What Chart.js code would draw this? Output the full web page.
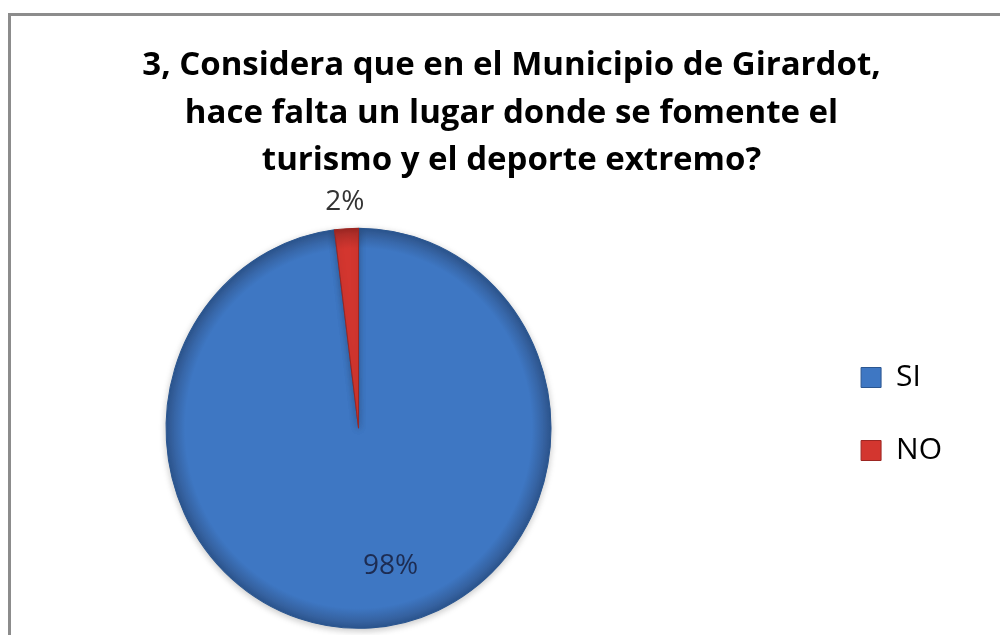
<!DOCTYPE html>
<html lang="es">
<head>
<meta charset="utf-8">
<title>Encuesta Girardot - Pregunta 3</title>
<script src="https://cdn.jsdelivr.net/npm/chart.js@4.4.1/dist/chart.umd.min.js"></script>
<style>
  html, body { margin: 0; padding: 0; background: #ffffff; overflow: hidden; width: 1000px; height: 635px; }
  #frame {
    position: absolute; left: 8px; top: 13px;
    width: 1100px; height: 700px; overflow: hidden;
    border-left: 3px solid #8c8c8c; border-top: 3px solid #8c8c8c;
    background: #ffffff;
  }
  #frame canvas { display: block; margin-left: -112px; }
</style>
</head>
<body>
<div id="frame"><canvas id="chart" width="1225" height="796"></canvas></div>
<script>
// Survey answers for question 3
const titleLines = [
  '3, Considera que en el Municipio de Girardot,',
  'hace falta un lugar donde se fomente el',
  'turismo y el deporte extremo?'
];
const categories = ['SI', 'NO'];
const values = [98, 2];

// Slice palette
const sliceColors = ['#3e77c3', '#d3362f'];
const sliceEdgeColors = ['#2b5690', '#9c2622'];
const sliceRimColors = ['#345f9c', '#b02e29'];
const labelColors = ['#1d2c52', '#333333'];

const FONT = '"Open Sans", "Liberation Sans", Arial, sans-serif';
const PIE_RADIUS = 192.5;
const PIE_Y_STRETCH = 200 / 192.5;

// Radial shading for each slice, centred on the pie
function sliceFill(context) {
  const chart = context.chart;
  const area = chart.chartArea;
  const i = context.dataIndex;
  if (!area || i === undefined) return sliceColors[i || 0];
  const cx = (area.left + area.right) / 2;
  const cy = (area.top + area.bottom) / 2;
  const g = chart.ctx.createRadialGradient(cx, cy, 0, cx, cy, PIE_RADIUS);
  g.addColorStop(0, sliceColors[i]);
  g.addColorStop(0.9, sliceColors[i]);
  g.addColorStop(0.975, sliceRimColors[i]);
  g.addColorStop(1, sliceEdgeColors[i]);
  return g;
}

// Empty layout boxes used to reserve room around the plot
const spacers = {
  id: 'spacers',
  beforeInit(chart, args, opts) {
    (opts.boxes || []).forEach((s) => {
      Chart.layouts.addBox(chart, {
        position: s.position, weight: s.weight, fullSize: false, options: {},
        left: 0, top: 0, right: 0, bottom: 0, width: 0, height: 0,
        isHorizontal() { return this.position === 'top' || this.position === 'bottom'; },
        update(maxW, maxH) {
          if (this.isHorizontal()) { this.width = maxW; this.height = s.size; }
          else { this.width = s.size; this.height = maxH; }
        },
        draw() {}
      });
    });
  }
};

// Slightly taller-than-wide pie, soft shadow, and percentage labels
const pieDecor = {
  id: 'pieDecor',
  beforeDatasetsDraw(chart) {
    const area = chart.chartArea;
    const cx = (area.left + area.right) / 2;
    const cy = (area.top + area.bottom) / 2;
    const ctx = chart.ctx;
    ctx.save();
    ctx.translate(cx, cy);
    ctx.scale(1, PIE_Y_STRETCH);
    ctx.translate(-cx, -cy);
    ctx.shadowColor = 'rgba(0,0,0,0.22)';
    ctx.shadowBlur = 7;
    ctx.shadowOffsetY = 2;
  },
  afterDatasetsDraw(chart, args, opts) {
    const ctx = chart.ctx;
    ctx.restore();
    const meta = chart.getDatasetMeta(0);
    const data = chart.data.datasets[0].data;
    const total = data.reduce((a, b) => a + b, 0);
    ctx.save();
    ctx.font = '28px ' + FONT;
    ctx.textAlign = 'center';
    ctx.textBaseline = 'middle';
    meta.data.forEach((arc, i) => {
      const p = arc.getProps(['x', 'y', 'startAngle', 'endAngle', 'outerRadius'], true);
      const share = data[i] / total;
      const mid = (p.startAngle + p.endAngle) / 2;
      let r, ang;
      if (share < opts.outsideBelow) {
        r = p.outerRadius + opts.outsideGap;
        ang = mid;
      } else {
        r = p.outerRadius * opts.insideRadius;
        ang = mid + opts.insideAngleShift * Math.PI / 180;
      }
      const lx = p.x + Math.cos(ang) * r;
      const ly = p.y + Math.sin(ang) * r * PIE_Y_STRETCH;
      ctx.fillStyle = labelColors[i];
      ctx.fillText(Math.round(share * 100) + '%', lx, ly);
    });
    ctx.restore();
  }
};

new Chart(document.getElementById('chart'), {
  type: 'pie',
  data: {
    labels: categories,
    datasets: [{
      data: values,
      backgroundColor: sliceFill,
      borderColor: sliceEdgeColors,
      borderWidth: 1,
      radius: PIE_RADIUS
    }]
  },
  plugins: [spacers, pieDecor],
  options: {
    responsive: false,
    devicePixelRatio: 1,
    animation: false,
    layout: { padding: 0 },
    plugins: {
      tooltip: { enabled: false },
      title: {
        display: true,
        text: titleLines,
        color: '#000000',
        font: { family: FONT, size: 33, weight: 'bold', lineHeight: 1.44 },
        padding: { top: 26, bottom: 8.5 }
      },
      legend: {
        position: 'right',
        align: 'center',
        labels: {
          color: '#000000',
          font: { family: FONT, size: 30 },
          boxWidth: 20,
          boxHeight: 20,
          padding: 43,
          generateLabels(chart) {
            const items = Chart.overrides.pie.plugins.legend.labels.generateLabels(chart);
            items.forEach((it, i) => {
              it.fillStyle = sliceColors[i];
              it.strokeStyle = sliceEdgeColors[i];
              it.lineWidth = 1;
            });
            return items;
          }
        }
      },
      spacers: {
        boxes: [
          { position: 'right', weight: 1500, size: 172 },
          { position: 'bottom', weight: 1500, size: 148.5 }
        ]
      },
      pieDecor: {
        outsideBelow: 0.05,
        outsideGap: 26,
        insideRadius: 0.707,
        insideAngleShift: -10
      }
    }
  }
});
</script>
</body>
</html>
